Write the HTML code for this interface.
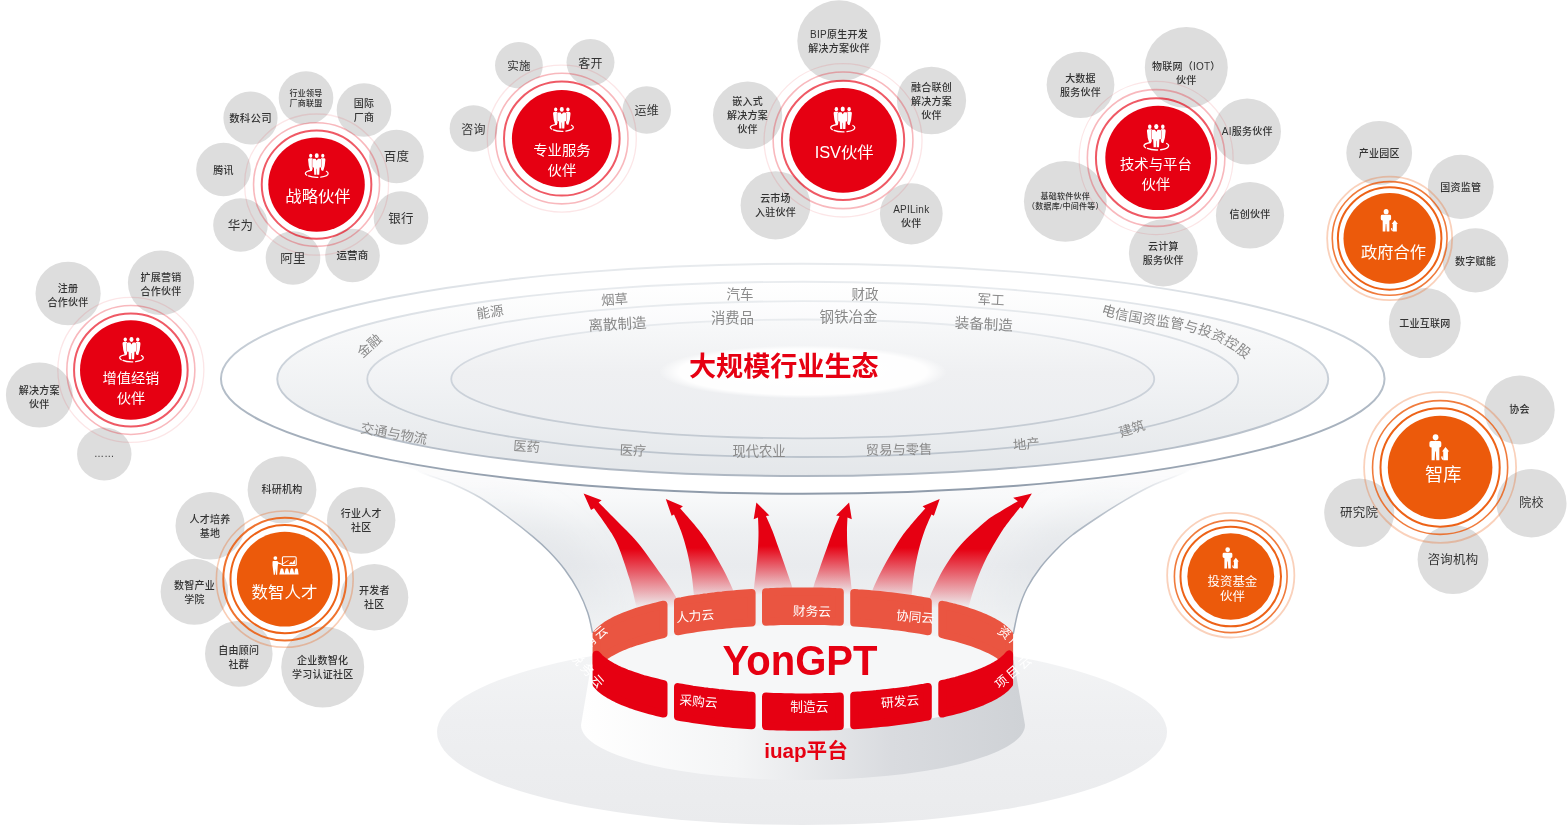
<!DOCTYPE html>
<html lang="zh-CN"><head><meta charset="utf-8"><title>YonGPT 生态</title>
<style>
html,body{margin:0;padding:0;background:#fff;}
body{width:1567px;height:826px;overflow:hidden;font-family:"Liberation Sans","Noto Sans CJK SC",sans-serif;}
svg{display:block;will-change:transform;}
text{font-family:"Liberation Sans","Noto Sans CJK SC",sans-serif;}
.st{fill:#333333;text-anchor:middle;letter-spacing:0.25px;}
.sm{font-weight:500;}
.lb{fill:#fff;text-anchor:middle;}
.ind{fill:#8a8a8a;text-anchor:middle;}
.cl{fill:#fff;text-anchor:middle;font-size:12.7px;}
</style></head><body>
<svg width="1567" height="826" viewBox="0 0 1567 826">
<defs>
<linearGradient id="gS1" x1="0" y1="0" x2="0" y2="1"><stop offset="0" stop-color="#e8ebee"/><stop offset="0.45" stop-color="#bcc5cf"/><stop offset="1" stop-color="#8f9baa"/></linearGradient>
<linearGradient id="gS2" x1="0" y1="0" x2="0" y2="1"><stop offset="0" stop-color="#e9ecef"/><stop offset="0.45" stop-color="#cad1d9"/><stop offset="1" stop-color="#aeb7c2"/></linearGradient>
<linearGradient id="gS3" x1="0" y1="0" x2="0" y2="1"><stop offset="0" stop-color="#e9ecef"/><stop offset="0.45" stop-color="#cfd5dc"/><stop offset="1" stop-color="#bcc4cd"/></linearGradient>
<linearGradient id="gS4" x1="0" y1="0" x2="0" y2="1"><stop offset="0" stop-color="#e9ecef"/><stop offset="0.45" stop-color="#ced4dc"/><stop offset="1" stop-color="#c3cad2"/></linearGradient>
<linearGradient id="gE2" x1="0" y1="0" x2="0" y2="1"><stop offset="0" stop-color="#ffffff"/><stop offset="1" stop-color="#e4e7ea"/></linearGradient>
<linearGradient id="gE3" x1="0" y1="0" x2="0" y2="1"><stop offset="0" stop-color="#fdfdfe"/><stop offset="1" stop-color="#e6e9ec"/></linearGradient>
<linearGradient id="gE4" x1="0" y1="0" x2="0" y2="1"><stop offset="0" stop-color="#f8f9fa"/><stop offset="0.45" stop-color="#eff0f2"/><stop offset="1" stop-color="#ebedf0"/></linearGradient>
<linearGradient id="gFun" x1="0" y1="0" x2="1" y2="0"><stop offset="0" stop-color="#dfe2e6"/><stop offset="0.25" stop-color="#f1f2f4"/><stop offset="0.5" stop-color="#f6f7f8"/><stop offset="0.75" stop-color="#f1f2f4"/><stop offset="1" stop-color="#dfe2e6"/></linearGradient>
<linearGradient id="gFunV" x1="0" y1="480" x2="0" y2="650" gradientUnits="userSpaceOnUse"><stop offset="0" stop-color="#fbfbfc"/><stop offset="0.1" stop-color="#f8f9fa"/><stop offset="0.3" stop-color="#eef0f2"/><stop offset="0.5" stop-color="#e9ebee"/><stop offset="0.75" stop-color="#eef0f2"/><stop offset="1" stop-color="#f4f5f6"/></linearGradient>
<linearGradient id="gEdge" x1="0" y1="470" x2="0" y2="545" gradientUnits="userSpaceOnUse"><stop offset="0" stop-color="#a3aebb" stop-opacity="0"/><stop offset="0.5" stop-color="#a3aebb" stop-opacity="0.7"/><stop offset="1" stop-color="#a3aebb" stop-opacity="1"/></linearGradient>
<linearGradient id="gEdgeSh" x1="0" y1="480" x2="0" y2="640" gradientUnits="userSpaceOnUse"><stop offset="0" stop-color="#d5d9de" stop-opacity="0"/><stop offset="0.42" stop-color="#d5d9de" stop-opacity="0.27"/><stop offset="0.7" stop-color="#d5d9de" stop-opacity="0.18"/><stop offset="1" stop-color="#d5d9de" stop-opacity="0.04"/></linearGradient>
<linearGradient id="gShadow" x1="0" y1="0" x2="0" y2="1"><stop offset="0" stop-color="#f4f5f6"/><stop offset="0.45" stop-color="#eeeff1"/><stop offset="1" stop-color="#eaebed"/></linearGradient>
<filter id="blur18" x="-50%" y="-50%" width="200%" height="200%"><feGaussianBlur stdDeviation="14"/></filter>
<linearGradient id="gArr0" x1="0" y1="549" x2="0" y2="608" gradientUnits="userSpaceOnUse"><stop offset="0" stop-color="#e60012" stop-opacity="1"/><stop offset="1" stop-color="#e60012" stop-opacity="0"/></linearGradient>
<linearGradient id="gArr1" x1="0" y1="548" x2="0" y2="601" gradientUnits="userSpaceOnUse"><stop offset="0" stop-color="#e60012" stop-opacity="1"/><stop offset="1" stop-color="#e60012" stop-opacity="0"/></linearGradient>
<linearGradient id="gArr2" x1="0" y1="546" x2="0" y2="595" gradientUnits="userSpaceOnUse"><stop offset="0" stop-color="#e60012" stop-opacity="1"/><stop offset="1" stop-color="#e60012" stop-opacity="0"/></linearGradient>
<linearGradient id="gPed" x1="0" y1="0" x2="1" y2="0"><stop offset="0" stop-color="#ffffff"/><stop offset="0.35" stop-color="#f4f5f6"/><stop offset="0.7" stop-color="#d9dbdf"/><stop offset="1" stop-color="#cfd2d6"/></linearGradient>
<radialGradient id="gGlow" cx="0.5" cy="0.5" r="0.5"><stop offset="0" stop-color="#fff" stop-opacity="1"/><stop offset="0.86" stop-color="#fff" stop-opacity="0.95"/><stop offset="1" stop-color="#fff" stop-opacity="0"/></radialGradient>
<clipPath id="clipBack"><path d="M580 560H1030V640.5H1014A211 52.5 0 0 0 592 640.5H580Z M592 640.5 A211 52.5 0 0 1 1014 640.5 V700 H592Z"/></clipPath>
</defs>
<rect width="1567" height="826" fill="#fff"/>

<ellipse cx="802" cy="732" rx="365" ry="93" fill="url(#gShadow)"/>
<clipPath id="clipFun"><path d="M300.0 430.0 C318.8 436.5 391.0 461.2 413.0 469.0 C435.0 476.8 425.3 474.0 432.0 476.5 C438.7 479.0 445.3 480.7 453.3 484.2 C461.3 487.7 471.0 492.2 479.9 497.5 C488.8 502.8 497.6 509.4 506.5 516.0 C515.4 522.5 526.1 530.9 533.2 536.8 C540.3 542.7 543.8 546.0 549.1 551.5 C554.4 557.0 560.2 563.4 565.1 570.0 C570.0 576.6 574.6 583.9 578.4 591.0 C582.2 598.1 585.3 605.5 587.7 612.5 C590.1 619.5 591.8 629.6 592.6 633.0 L592 677 A211 52.5 0 0 0 1013.5 677 L1013.2 634.0 C1014.1 630.0 1016.2 617.7 1018.5 610.0 C1020.8 602.3 1023.4 595.1 1027.1 588.0 C1030.8 580.9 1035.5 573.9 1040.4 567.5 C1045.3 561.1 1051.1 554.9 1056.4 549.5 C1061.7 544.1 1065.2 540.5 1072.3 535.0 C1079.4 529.5 1090.1 522.4 1099.0 516.5 C1107.9 510.6 1116.7 505.0 1125.6 499.8 C1134.5 494.6 1144.2 489.3 1152.2 485.5 C1160.2 481.7 1166.8 479.8 1173.5 477.0 C1180.2 474.2 1170.6 476.8 1192.5 469.0 C1214.4 461.2 1286.2 436.5 1305.0 430.0 Z"/></clipPath>
<path d="M300.0 430.0 C318.8 436.5 391.0 461.2 413.0 469.0 C435.0 476.8 425.3 474.0 432.0 476.5 C438.7 479.0 445.3 480.7 453.3 484.2 C461.3 487.7 471.0 492.2 479.9 497.5 C488.8 502.8 497.6 509.4 506.5 516.0 C515.4 522.5 526.1 530.9 533.2 536.8 C540.3 542.7 543.8 546.0 549.1 551.5 C554.4 557.0 560.2 563.4 565.1 570.0 C570.0 576.6 574.6 583.9 578.4 591.0 C582.2 598.1 585.3 605.5 587.7 612.5 C590.1 619.5 591.8 629.6 592.6 633.0 L592 677 A211 52.5 0 0 0 1013.5 677 L1013.2 634.0 C1014.1 630.0 1016.2 617.7 1018.5 610.0 C1020.8 602.3 1023.4 595.1 1027.1 588.0 C1030.8 580.9 1035.5 573.9 1040.4 567.5 C1045.3 561.1 1051.1 554.9 1056.4 549.5 C1061.7 544.1 1065.2 540.5 1072.3 535.0 C1079.4 529.5 1090.1 522.4 1099.0 516.5 C1107.9 510.6 1116.7 505.0 1125.6 499.8 C1134.5 494.6 1144.2 489.3 1152.2 485.5 C1160.2 481.7 1166.8 479.8 1173.5 477.0 C1180.2 474.2 1170.6 476.8 1192.5 469.0 C1214.4 461.2 1286.2 436.5 1305.0 430.0 Z" fill="url(#gFunV)"/>
<g clip-path="url(#clipFun)"><path d="M413.0 469.0 C416.2 470.2 425.3 474.0 432.0 476.5 C438.7 479.0 445.3 480.7 453.3 484.2 C461.3 487.7 471.0 492.2 479.9 497.5 C488.8 502.8 497.6 509.4 506.5 516.0 C515.4 522.5 526.1 530.9 533.2 536.8 C540.3 542.7 543.8 546.0 549.1 551.5 C554.4 557.0 560.2 563.4 565.1 570.0 C570.0 576.6 574.6 583.9 578.4 591.0 C582.2 598.1 585.3 605.5 587.7 612.5 C590.1 619.5 591.8 629.6 592.6 633.0" fill="none" stroke="url(#gEdgeSh)" stroke-width="50" filter="url(#blur18)"/><path d="M1192.5 469.0 C1189.3 470.3 1180.2 474.2 1173.5 477.0 C1166.8 479.8 1160.2 481.7 1152.2 485.5 C1144.2 489.3 1134.5 494.6 1125.6 499.8 C1116.7 505.0 1107.9 510.6 1099.0 516.5 C1090.1 522.4 1079.4 529.5 1072.3 535.0 C1065.2 540.5 1061.7 544.1 1056.4 549.5 C1051.1 554.9 1045.3 561.1 1040.4 567.5 C1035.5 573.9 1030.8 580.9 1027.1 588.0 C1023.4 595.1 1020.8 602.3 1018.5 610.0 C1016.2 617.7 1014.1 630.0 1013.2 634.0" fill="none" stroke="url(#gEdgeSh)" stroke-width="50" filter="url(#blur18)"/></g>
<path d="M413.0 469.0 C416.2 470.2 425.3 474.0 432.0 476.5 C438.7 479.0 445.3 480.7 453.3 484.2 C461.3 487.7 471.0 492.2 479.9 497.5 C488.8 502.8 497.6 509.4 506.5 516.0 C515.4 522.5 526.1 530.9 533.2 536.8 C540.3 542.7 543.8 546.0 549.1 551.5 C554.4 557.0 560.2 563.4 565.1 570.0 C570.0 576.6 574.6 583.9 578.4 591.0 C582.2 598.1 585.3 605.5 587.7 612.5 C590.1 619.5 591.8 629.6 592.6 633.0" fill="none" stroke="url(#gEdge)" stroke-width="1.5"/>
<path d="M1192.5 469.0 C1189.3 470.3 1180.2 474.2 1173.5 477.0 C1166.8 479.8 1160.2 481.7 1152.2 485.5 C1144.2 489.3 1134.5 494.6 1125.6 499.8 C1116.7 505.0 1107.9 510.6 1099.0 516.5 C1090.1 522.4 1079.4 529.5 1072.3 535.0 C1065.2 540.5 1061.7 544.1 1056.4 549.5 C1051.1 554.9 1045.3 561.1 1040.4 567.5 C1035.5 573.9 1030.8 580.9 1027.1 588.0 C1023.4 595.1 1020.8 602.3 1018.5 610.0 C1016.2 617.7 1014.1 630.0 1013.2 634.0" fill="none" stroke="url(#gEdge)" stroke-width="1.5"/>
<ellipse cx="802.75" cy="378.8" rx="581.8" ry="115" fill="#ffffff" stroke="url(#gS1)" stroke-width="2"/>
<ellipse cx="802.75" cy="378.9" rx="525.5" ry="97.1" fill="url(#gE2)" stroke="url(#gS2)" stroke-width="1.9"/>
<ellipse cx="802.75" cy="379.1" rx="435.5" ry="77.9" fill="url(#gE3)" stroke="url(#gS3)" stroke-width="1.8"/>
<ellipse cx="802.75" cy="378.9" rx="351.5" ry="59.4" fill="url(#gE4)" stroke="url(#gS4)" stroke-width="1.8"/>
<ellipse cx="802.9" cy="371.9" rx="144" ry="26.5" fill="url(#gGlow)"/>
<text x="783.8" y="375.5" text-anchor="middle" font-size="27.1" font-weight="bold" fill="#e60012">大规模行业生态</text>
<text class="ind" font-size="13.5" transform="translate(369.2 345.6) rotate(-42)" y="4.9">金融</text>
<text class="ind" font-size="13.5" transform="translate(490 312) rotate(-8)" y="4.9">能源</text>
<text class="ind" font-size="13.5" transform="translate(614.5 299.5) rotate(-4)" y="4.9">烟草</text>
<text class="ind" font-size="14.5" transform="translate(617.5 324) rotate(-3)" y="5.2">离散制造</text>
<text class="ind" font-size="13.5" transform="translate(740 294.5) rotate(0)" y="4.9">汽车</text>
<text class="ind" font-size="14.3" transform="translate(732.5 317.5) rotate(0)" y="5.1">消费品</text>
<text class="ind" font-size="13.5" transform="translate(865 294.5) rotate(0)" y="4.9">财政</text>
<text class="ind" font-size="14.5" transform="translate(848.5 316.5) rotate(0)" y="5.2">钢铁冶金</text>
<text class="ind" font-size="13.5" transform="translate(991 299.5) rotate(3)" y="4.9">军工</text>
<text class="ind" font-size="14.5" transform="translate(983.7 324) rotate(3)" y="5.2">装备制造</text>
<text class="ind" font-size="13.5" transform="translate(394 433.5) rotate(10)" y="4.9">交通与物流</text>
<text class="ind" font-size="13.3" transform="translate(526.5 446.5) rotate(4)" y="4.8">医药</text>
<text class="ind" font-size="13.3" transform="translate(633 450.5) rotate(2)" y="4.8">医疗</text>
<text class="ind" font-size="13.3" transform="translate(759 451.5) rotate(0)" y="4.8">现代农业</text>
<text class="ind" font-size="13.3" transform="translate(899 449.5) rotate(-1)" y="4.8">贸易与零售</text>
<text class="ind" font-size="13.3" transform="translate(1026.3 444) rotate(-5)" y="4.8">地产</text>
<text class="ind" font-size="13.3" transform="translate(1131.8 428.6) rotate(-18)" y="4.8">建筑</text>
<path id="pTel" d="M1100.7 313.6 C1102.2 314.1 1106.9 315.6 1109.9 316.5 C1113.0 317.4 1116.1 318.2 1119.2 319.0 C1122.2 319.7 1125.3 320.3 1128.4 320.9 C1131.4 321.5 1134.5 322.0 1137.5 322.6 C1140.5 323.1 1143.6 323.5 1146.6 324.0 C1149.6 324.4 1152.6 324.8 1155.6 325.3 C1158.6 325.7 1161.6 326.1 1164.6 326.6 C1167.5 327.1 1170.5 327.5 1173.5 328.0 C1176.4 328.6 1179.4 329.1 1182.3 329.7 C1185.2 330.3 1188.2 331.0 1191.1 331.8 C1194.0 332.5 1196.9 333.3 1199.8 334.2 C1202.7 335.1 1205.6 336.1 1208.5 337.3 C1211.4 338.4 1214.3 339.6 1217.2 341.0 C1220.1 342.3 1223.0 343.8 1225.9 345.4 C1228.8 347.1 1231.7 348.8 1234.6 350.8 C1237.5 352.8 1240.3 354.9 1243.2 357.2 C1246.1 359.5 1250.5 363.4 1252.0 364.7" fill="none"/>
<text class="ind" font-size="13.8" letter-spacing="0.25" style="text-anchor:start"><textPath href="#pTel" startOffset="0">电信国资监管与投资控股</textPath></text>
<path d="M583.6 493.6 L601.6 500.2 L598.6 502.6 C601.7 505.7 610.5 514.3 617.0 521.0 C623.5 527.7 630.4 533.7 637.8 542.7 C645.2 551.7 655.1 566.0 661.5 575.0 C667.9 584.0 672.4 590.8 676.0 597.0 C679.6 603.2 681.8 609.5 683.0 612.0 L637 612 C636.8 610.9 637.3 611.0 636.0 605.4 C634.7 599.8 632.4 588.5 629.3 578.3 C626.2 568.1 621.4 553.3 617.5 544.4 C613.6 535.5 609.9 531.0 606.0 525.0 C602.1 519.0 596.0 511.0 594.0 508.2 L591.0 510.0 Z" fill="url(#gArr0)"/>
<g id="arrL">
<path d="M665.8 499 L682.9 506.2 L680.2 508.4 C682.3 510.8 688.8 517.9 693.0 523.0 C697.2 528.1 700.7 531.8 705.6 539.3 C710.5 546.8 718.0 559.7 722.5 568.0 C727.0 576.3 730.1 583.0 732.7 589.3 C735.3 595.6 737.1 603.2 738.0 606.0 L694.5 606 C694.4 603.9 694.2 598.9 693.7 593.6 C693.2 588.3 692.6 581.1 691.5 574.0 C690.4 566.9 688.8 558.2 687.0 551.0 C685.2 543.8 683.2 537.1 681.0 531.0 C678.8 524.9 675.2 517.2 674.0 514.4 L671.6 515.8 Z" fill="url(#gArr1)"/>
<path d="M756.4 502.4 L769.4 515.6 L766.0 516.0 C767.1 518.5 770.4 525.7 772.5 531.0 C774.6 536.3 776.2 541.5 778.5 547.8 C780.8 554.1 783.8 562.5 786.0 569.0 C788.2 575.5 790.5 581.0 792.0 586.8 C793.5 592.6 794.5 601.1 795.0 604.0 L752.5 604 C752.7 601.4 753.3 594.2 753.9 588.5 C754.5 582.8 755.3 576.8 756.0 570.0 C756.7 563.2 757.6 554.1 758.0 547.8 C758.4 541.5 758.5 537.0 758.5 532.0 C758.5 527.0 758.1 520.0 758.0 517.6 L753.7 519.2 Z" fill="url(#gArr2)"/>
</g>
<use href="#arrL" transform="translate(1605.5 0) scale(-1 1)"/>
<path d="M1031.9 493.6 L1022.4 508.8 L1020.3 507.1 C1018.6 509.2 1013.4 515.5 1010.0 520.0 C1006.6 524.5 1003.9 527.9 1000.0 534.2 C996.1 540.5 990.4 550.1 986.4 558.0 C982.4 565.9 979.1 574.1 976.3 581.7 C973.5 589.3 970.9 598.7 969.5 603.7 C968.1 608.8 968.2 610.6 968.0 612.0 L925 612 C925.9 609.2 927.3 602.6 930.5 595.3 C933.7 588.0 939.0 576.6 944.1 568.1 C949.2 559.6 954.0 552.3 961.0 544.4 C968.0 536.5 979.6 526.4 986.4 520.7 C993.2 515.1 996.8 513.8 1002.0 510.5 C1007.2 507.2 1015.2 502.8 1017.8 501.2 L1013.2 497.8 Z" fill="url(#gArr0)"/>
<path d="M592 660 L581 725 A222 55 0 0 0 1025 725 L1013.5 660 Z" fill="url(#gPed)"/>
<ellipse cx="802.75" cy="677" rx="211" ry="52.5" fill="#f6f7f8"/>
<g stroke-linejoin="round" stroke-width="8.0">
<path d="M596.6 634.0 L599.9 630.5 L603.3 627.7 L606.6 625.3 L610.0 623.3 L613.3 621.4 L616.7 619.7 L620.0 618.2 L623.4 616.8 L626.7 615.4 L630.0 614.2 L633.4 613.0 L636.7 611.9 L640.1 610.8 L643.4 609.8 L646.8 608.9 L650.1 608.0 L653.5 607.1 L656.8 606.3 L660.2 605.5 L663.5 604.7 L663.5 634.1 L660.2 634.9 L656.8 635.7 L653.5 636.5 L650.1 637.4 L646.8 638.3 L643.4 639.3 L640.1 640.3 L636.7 641.3 L633.4 642.5 L630.0 643.6 L626.7 644.9 L623.4 646.2 L620.0 647.7 L616.7 649.2 L613.3 650.9 L610.0 652.7 L606.6 654.8 L603.3 657.1 L599.9 659.9 L596.6 663.5Z" fill="#ea5541" stroke="#ea5541"/>
<path d="M678.0 601.7 L681.7 601.1 L685.4 600.4 L689.0 599.8 L692.7 599.2 L696.4 598.7 L700.1 598.2 L703.8 597.6 L707.4 597.2 L711.1 596.7 L714.8 596.3 L718.5 595.8 L722.2 595.5 L725.8 595.1 L729.5 594.7 L733.2 594.4 L736.9 594.1 L740.6 593.8 L744.2 593.5 L747.9 593.2 L751.6 593.0 L751.6 622.4 L747.9 622.7 L744.2 622.9 L740.6 623.2 L736.9 623.5 L733.2 623.8 L729.5 624.2 L725.8 624.5 L722.2 624.9 L718.5 625.3 L714.8 625.7 L711.1 626.2 L707.4 626.6 L703.8 627.1 L700.1 627.6 L696.4 628.1 L692.7 628.7 L689.0 629.3 L685.4 629.9 L681.7 630.5 L678.0 631.2Z" fill="#ea5541" stroke="#ea5541"/>
<path d="M766.0 592.2 L769.7 592.1 L773.4 591.9 L777.1 591.8 L780.8 591.7 L784.5 591.6 L788.1 591.5 L791.8 591.5 L795.5 591.4 L799.2 591.4 L802.9 591.4 L806.6 591.4 L810.3 591.4 L814.0 591.5 L817.7 591.5 L821.3 591.6 L825.0 591.7 L828.7 591.8 L832.4 591.9 L836.1 592.1 L839.8 592.2 L839.8 621.7 L836.1 621.5 L832.4 621.4 L828.7 621.3 L825.0 621.1 L821.3 621.1 L817.7 621.0 L814.0 620.9 L810.3 620.9 L806.6 620.9 L802.9 620.9 L799.2 620.9 L795.5 620.9 L791.8 620.9 L788.1 621.0 L784.5 621.1 L780.8 621.1 L777.1 621.2 L773.4 621.4 L769.7 621.5 L766.0 621.7Z" fill="#ea5541" stroke="#ea5541"/>
<path d="M854.2 593.0 L857.9 593.3 L861.6 593.5 L865.2 593.8 L868.9 594.1 L872.6 594.4 L876.3 594.7 L880.0 595.1 L883.6 595.5 L887.3 595.9 L891.0 596.3 L894.7 596.7 L898.4 597.2 L902.0 597.7 L905.7 598.2 L909.4 598.7 L913.1 599.3 L916.8 599.9 L920.4 600.5 L924.1 601.1 L927.8 601.8 L927.8 631.2 L924.1 630.6 L920.4 629.9 L916.8 629.3 L913.1 628.7 L909.4 628.2 L905.7 627.6 L902.0 627.1 L898.4 626.6 L894.7 626.2 L891.0 625.7 L887.3 625.3 L883.6 624.9 L880.0 624.6 L876.3 624.2 L872.6 623.9 L868.9 623.5 L865.2 623.2 L861.6 623.0 L857.9 622.7 L854.2 622.5Z" fill="#ea5541" stroke="#ea5541"/>
<path d="M942.3 604.8 L945.6 605.5 L949.0 606.3 L952.3 607.2 L955.7 608.0 L959.0 608.9 L962.3 609.9 L965.7 610.9 L969.0 612.0 L972.4 613.1 L975.7 614.3 L979.0 615.5 L982.4 616.9 L985.7 618.3 L989.1 619.9 L992.4 621.5 L995.7 623.4 L999.1 625.5 L1002.4 627.8 L1005.8 630.7 L1009.1 634.3 L1009.1 663.8 L1005.8 660.1 L1002.4 657.3 L999.1 654.9 L995.7 652.8 L992.4 651.0 L989.1 649.3 L985.7 647.8 L982.4 646.3 L979.0 645.0 L975.7 643.7 L972.4 642.5 L969.0 641.4 L965.7 640.4 L962.3 639.4 L959.0 638.4 L955.7 637.5 L952.3 636.6 L949.0 635.8 L945.6 635.0 L942.3 634.2Z" fill="#ea5541" stroke="#ea5541"/>
<path d="M596.6 654.8 L599.9 658.3 L603.3 661.1 L606.6 663.5 L610.0 665.5 L613.3 667.4 L616.7 669.1 L620.0 670.6 L623.4 672.0 L626.7 673.4 L630.0 674.6 L633.4 675.8 L636.7 676.9 L640.1 678.0 L643.4 679.0 L646.8 679.9 L650.1 680.8 L653.5 681.7 L656.8 682.5 L660.2 683.3 L663.5 684.1 L663.5 713.6 L660.2 712.8 L656.8 712.0 L653.5 711.2 L650.1 710.3 L646.8 709.4 L643.4 708.4 L640.1 707.4 L636.7 706.4 L633.4 705.2 L630.0 704.1 L626.7 702.8 L623.4 701.5 L620.0 700.0 L616.7 698.5 L613.3 696.8 L610.0 695.0 L606.6 692.9 L603.3 690.6 L599.9 687.8 L596.6 684.2Z" fill="#e60012" stroke="#e60012"/>
<path d="M678.0 687.1 L681.7 687.7 L685.4 688.4 L689.0 689.0 L692.7 689.6 L696.4 690.1 L700.1 690.6 L703.8 691.2 L707.4 691.6 L711.1 692.1 L714.8 692.5 L718.5 693.0 L722.2 693.3 L725.8 693.7 L729.5 694.1 L733.2 694.4 L736.9 694.7 L740.6 695.0 L744.2 695.3 L747.9 695.6 L751.6 695.8 L751.6 725.3 L747.9 725.0 L744.2 724.8 L740.6 724.5 L736.9 724.2 L733.2 723.9 L729.5 723.5 L725.8 723.2 L722.2 722.8 L718.5 722.4 L714.8 722.0 L711.1 721.5 L707.4 721.1 L703.8 720.6 L700.1 720.1 L696.4 719.6 L692.7 719.0 L689.0 718.4 L685.4 717.8 L681.7 717.2 L678.0 716.5Z" fill="#e60012" stroke="#e60012"/>
<path d="M766.0 696.6 L769.7 696.7 L773.4 696.9 L777.1 697.0 L780.8 697.1 L784.5 697.2 L788.1 697.3 L791.8 697.3 L795.5 697.4 L799.2 697.4 L802.9 697.4 L806.6 697.4 L810.3 697.4 L814.0 697.3 L817.7 697.3 L821.3 697.2 L825.0 697.1 L828.7 697.0 L832.4 696.9 L836.1 696.7 L839.8 696.6 L839.8 726.0 L836.1 726.2 L832.4 726.3 L828.7 726.4 L825.0 726.6 L821.3 726.6 L817.7 726.7 L814.0 726.8 L810.3 726.8 L806.6 726.8 L802.9 726.8 L799.2 726.8 L795.5 726.8 L791.8 726.8 L788.1 726.7 L784.5 726.6 L780.8 726.6 L777.1 726.5 L773.4 726.3 L769.7 726.2 L766.0 726.0Z" fill="#e60012" stroke="#e60012"/>
<path d="M854.2 695.8 L857.9 695.5 L861.6 695.3 L865.2 695.0 L868.9 694.7 L872.6 694.4 L876.3 694.1 L880.0 693.7 L883.6 693.3 L887.3 692.9 L891.0 692.5 L894.7 692.1 L898.4 691.6 L902.0 691.1 L905.7 690.6 L909.4 690.1 L913.1 689.5 L916.8 688.9 L920.4 688.3 L924.1 687.7 L927.8 687.0 L927.8 716.5 L924.1 717.1 L920.4 717.8 L916.8 718.4 L913.1 719.0 L909.4 719.5 L905.7 720.1 L902.0 720.6 L898.4 721.1 L894.7 721.5 L891.0 722.0 L887.3 722.4 L883.6 722.8 L880.0 723.1 L876.3 723.5 L872.6 723.8 L868.9 724.2 L865.2 724.5 L861.6 724.7 L857.9 725.0 L854.2 725.2Z" fill="#e60012" stroke="#e60012"/>
<path d="M942.3 684.0 L945.6 683.3 L949.0 682.5 L952.3 681.6 L955.7 680.8 L959.0 679.9 L962.3 678.9 L965.7 677.9 L969.0 676.8 L972.4 675.7 L975.7 674.5 L979.0 673.3 L982.4 671.9 L985.7 670.5 L989.1 668.9 L992.4 667.3 L995.7 665.4 L999.1 663.3 L1002.4 661.0 L1005.8 658.1 L1009.1 654.5 L1009.1 683.9 L1005.8 687.6 L1002.4 690.4 L999.1 692.8 L995.7 694.9 L992.4 696.7 L989.1 698.4 L985.7 699.9 L982.4 701.4 L979.0 702.7 L975.7 704.0 L972.4 705.2 L969.0 706.3 L965.7 707.3 L962.3 708.3 L959.0 709.3 L955.7 710.2 L952.3 711.1 L949.0 711.9 L945.6 712.7 L942.3 713.5Z" fill="#e60012" stroke="#e60012"/>
</g>
<text class="cl" transform="translate(695 616) rotate(-5)" y="4.5">人力云</text>
<text class="cl" transform="translate(811.9 611.3) rotate(1)" y="4.5">财务云</text>
<text class="cl" transform="translate(915 617) rotate(5)" y="4.5">协同云</text>
<text class="cl" transform="translate(698.5 701.5) rotate(5)" y="4.5">采购云</text>
<text class="cl" transform="translate(809.4 706.3) rotate(0)" y="4.5">制造云</text>
<text class="cl" transform="translate(900 701.5) rotate(-5)" y="4.5">研发云</text>
<text class="cl" transform="translate(1016.6 641.9) rotate(38)" y="4.5" letter-spacing="2.5" dx="1.25">资产云</text>
<text class="cl" transform="translate(1013 672.3) rotate(-40)" y="4.5" letter-spacing="2.5" dx="1.25">项目云</text>
<text class="cl" transform="translate(589 642.3) rotate(-40)" y="4.5" letter-spacing="2.5" dx="1.25">营销云</text>
<text class="cl" transform="translate(587.3 670) rotate(48)" y="4.5" letter-spacing="2.5" dx="1.25">税务云</text>
<text x="800" y="675" text-anchor="middle" font-size="43" font-weight="bold" fill="#e60012" textLength="155" lengthAdjust="spacingAndGlyphs">YonGPT</text>
<text x="806" y="758" text-anchor="middle" font-size="20.6" font-weight="bold" fill="#e60012">iuap平台</text>
<symbol id="grp" viewBox="-13 0 26 27" overflow="visible">
<g fill="#fff">
<ellipse cx="-6.3" cy="3" rx="1.700" ry="2.100"/><ellipse cx="6.3" cy="3" rx="1.700" ry="2.100"/>
<path d="M-8 5.500h3.600v11.500l-.9 1.600h-1.500l-1.500-5-.7-6.200c-.1-1 .3-1.900 1-1.900z"/>
<path d="M8 5.500h-3.600v11.500l.9 1.600h1.500l1.500-5 .7-6.200c.1-1-.3-1.900-1-1.900z"/>
<g stroke="currentColor" stroke-width=".7" paint-order="stroke"><ellipse cx="0" cy="2.900" rx="2.050" ry="2.500"/>
<path d="M-4.600 7.200q0-1.200 1.200-1.200h2.200l1.200 2 1.200-2h2.200q1.200 0 1.200 1.200v7.400q0 .6-.6.600h-1l-.4 7.500h-2.250l-.15-6.200h-.4l-.15 6.200h-2.250l-.4-7.500h-1q-.6 0-.6-.6z"/></g>
</g>
<path d="M-5.600 18.200c-3.800.6-6.300 1.800-6.300 3.200 0 .7.600 1.300 1.600 1.900M-8.600 24c2 .9 5.200 1.500 8.600 1.500h1.200M4.200 25.200c4.500-.6 7.700-2 7.700-3.800 0-.9-.7-1.600-1.900-2.200" fill="none" stroke="#fff" stroke-width="1.300" stroke-linecap="round"/>
</symbol>
<symbol id="per" viewBox="0 0 18 23" overflow="visible">
<g fill="#fff">
<ellipse cx="5.4" cy="2.600" rx="2.500" ry="2.650"/>
<path d="M1.500 5.800H8.900A1.500 1.500 0 0 1 10.400 7.300V9.900A1.500 1.500 0 0 1 8.900 11.400H8.700V22.700H6L5.600 15H5L4.600 22.700H1.900V11.400H1.500A1.500 1.500 0 0 1 0 9.900V7.300A1.500 1.500 0 0 1 1.500 5.800Z"/>
<path d="M14.100 11L17.300 15H16.200V22.700H12.100V15H11Z"/>
<path d="M10.300 19.300l1.200-.3c0 1.200.3 1.800.8 2.200l-.5 1.200c-1-.6-1.500-1.700-1.500-3.100z"/>
</g></symbol>
<symbol id="tch" viewBox="0 0 26 19" overflow="visible">
<g fill="#fff">
<circle cx="3.200" cy="1.800" r="1.900"/>
<path d="M1 4.600h4.200l1.200 1.600 3.200 1-.2.800-3.500-.6-.4 3-.5 7.800H3.800l-.5-6-.5 6H1.600L.4 9.200V5.400c0-.5.300-.8.600-.8z"/>
<rect x="10.200" y=".5" width="13.600" height="8.600" rx="1" fill="none" stroke="#fff" stroke-width="1.100"/>
<path d="M9 8.200l7-4.600.4.600-7 4.600z"/>
<path d="M16.500 7.800l2.200-2.300 1.300 1.100 2.600-3.400v4.600z"/>
<path d="M8.200 13.600c0-1 .7-1.700 1.500-1.700s1.500.7 1.500 1.700l1.100 4.400H7.100zM13.100 13.600c0-1 .7-1.700 1.500-1.700s1.500.7 1.500 1.700l1.100 4.400h-5.200zM18 13.600c0-1 .7-1.700 1.500-1.700s1.500.7 1.500 1.700l1.100 4.400h-5.200zM22.600 13.600c0-1 .7-1.700 1.500-1.700s1.500.7 1.500 1.700l.6 4.400h-4.400z"/>
</g></symbol>
<ellipse cx="250.5" cy="118" rx="27.12" ry="26.48" fill="#dddddd"/>
<ellipse cx="306" cy="98" rx="27.32" ry="26.68" fill="#dddddd"/>
<ellipse cx="316.55" cy="184.6" rx="63" ry="61.8" fill="#fff"/>
<ellipse cx="364" cy="110" rx="27.32" ry="26.68" fill="#dddddd"/>
<ellipse cx="396.5" cy="156.5" rx="27.32" ry="26.68" fill="#dddddd"/>
<ellipse cx="401" cy="218" rx="27.32" ry="26.68" fill="#dddddd"/>
<ellipse cx="352.5" cy="255.5" rx="27.32" ry="26.68" fill="#dddddd"/>
<ellipse cx="293" cy="258" rx="27.32" ry="26.68" fill="#dddddd"/>
<ellipse cx="240.5" cy="225" rx="27.32" ry="26.68" fill="#dddddd"/>
<ellipse cx="223.5" cy="169.5" rx="27.32" ry="26.68" fill="#dddddd"/>
<ellipse cx="316.55" cy="184.6" rx="72" ry="70.6" fill="none" stroke="#e60012" stroke-opacity="0.1" stroke-width="1.3"/>
<ellipse cx="316.55" cy="184.6" rx="63" ry="61.8" fill="none" stroke="#e60012" stroke-opacity="0.28" stroke-width="1.6"/>
<ellipse cx="316.55" cy="184.6" rx="54.8" ry="54.1" fill="none" stroke="#e60012" stroke-opacity="0.65" stroke-width="2.0"/>
<ellipse cx="316.55" cy="184.6" rx="48.25" ry="47.2" fill="#e60012"/>
<text class="st sm" x="250.5" y="122.2" font-size="10.4">数科公司</text>
<text class="st sm" x="306" y="96.1" font-size="8">行业领导</text>
<text class="st sm" x="306" y="106.3" font-size="8">厂商联盟</text>
<text class="st sm" x="364" y="107.0" font-size="10">国际</text>
<text class="st sm" x="364" y="121.0" font-size="10">厂商</text>
<text class="st" x="396.5" y="161.3" font-size="12.5">百度</text>
<text class="st" x="401" y="223.0" font-size="12.5">银行</text>
<text class="st sm" x="352.5" y="259.3" font-size="10.5">运营商</text>
<text class="st" x="293" y="262.9" font-size="12.5">阿里</text>
<text class="st" x="240.5" y="229.9" font-size="12.5">华为</text>
<text class="st sm" x="223.5" y="173.6" font-size="10">腾讯</text>
<text class="lb" x="318.0" y="202.0" font-size="15.9" textLength="65.4" lengthAdjust="spacingAndGlyphs">战略伙伴</text>
<use href="#grp" x="304.3" y="152.9" width="24.9" height="25.9" style="color:#e60012"/>
<ellipse cx="518.9" cy="65.3" rx="23.88" ry="23.32" fill="#dddddd"/>
<ellipse cx="561.8" cy="138.55" rx="66.2" ry="65.3" fill="#fff"/>
<ellipse cx="590.5" cy="62.35" rx="23.98" ry="23.42" fill="#dddddd"/>
<ellipse cx="646.7" cy="110" rx="24.29" ry="23.72" fill="#dddddd"/>
<ellipse cx="473.5" cy="128.5" rx="23.88" ry="23.32" fill="#dddddd"/>
<ellipse cx="561.8" cy="138.55" rx="74.5" ry="73.5" fill="none" stroke="#e60012" stroke-opacity="0.1" stroke-width="1.3"/>
<ellipse cx="561.8" cy="138.55" rx="66.2" ry="65.3" fill="none" stroke="#e60012" stroke-opacity="0.28" stroke-width="1.6"/>
<ellipse cx="561.8" cy="138.55" rx="57.8" ry="57.0" fill="none" stroke="#e60012" stroke-opacity="0.65" stroke-width="2.0"/>
<ellipse cx="561.8" cy="138.55" rx="49.9" ry="48.65" fill="#e60012"/>
<text class="st" x="518.9" y="70.1" font-size="11.5">实施</text>
<text class="st" x="590.5" y="67.7" font-size="12">客开</text>
<text class="st" x="646.7" y="115.3" font-size="12">运维</text>
<text class="st" x="473.5" y="133.6" font-size="12">咨询</text>
<text class="lb" x="561.9" y="155.3" font-size="14.0" textLength="57.4" lengthAdjust="spacingAndGlyphs">专业服务</text>
<text class="lb" x="561.9" y="174.5" font-size="14.0" textLength="28.6" lengthAdjust="spacingAndGlyphs">伙伴</text>
<use href="#grp" x="549.2" y="106.6" width="25.2" height="26.2" style="color:#e60012"/>
<ellipse cx="839" cy="41" rx="41.69" ry="40.71" fill="#dddddd"/>
<ellipse cx="931.5" cy="100.5" rx="34.61" ry="33.79" fill="#dddddd"/>
<ellipse cx="911.3" cy="213.8" rx="31.37" ry="30.63" fill="#dddddd"/>
<ellipse cx="747.6" cy="115.3" rx="34.61" ry="33.79" fill="#dddddd"/>
<ellipse cx="775.5" cy="205.3" rx="34.91" ry="34.09" fill="#dddddd"/>
<ellipse cx="843.05" cy="140.35" rx="79" ry="76.65" fill="none" stroke="#e60012" stroke-opacity="0.1" stroke-width="1.3"/>
<ellipse cx="843.05" cy="140.35" rx="69.9" ry="68.3" fill="none" stroke="#e60012" stroke-opacity="0.28" stroke-width="1.6"/>
<ellipse cx="843.05" cy="140.35" rx="61.15" ry="59.55" fill="none" stroke="#e60012" stroke-opacity="0.65" stroke-width="2.0"/>
<ellipse cx="843.05" cy="140.35" rx="53.65" ry="52.3" fill="#e60012"/>
<text class="st sm" x="839" y="37.9" font-size="10">BIP原生开发</text>
<text class="st sm" x="839" y="51.9" font-size="10">解决方案伙伴</text>
<text class="st sm" x="931.5" y="90.6" font-size="10">融合联创</text>
<text class="st sm" x="931.5" y="104.6" font-size="10">解决方案</text>
<text class="st sm" x="931.5" y="118.6" font-size="10">伙伴</text>
<text class="st sm" x="911.3" y="212.6" font-size="10">APILink</text>
<text class="st sm" x="911.3" y="226.6" font-size="10">伙伴</text>
<text class="st sm" x="747.6" y="104.7" font-size="10">嵌入式</text>
<text class="st sm" x="747.6" y="118.7" font-size="10">解决方案</text>
<text class="st sm" x="747.6" y="132.7" font-size="10">伙伴</text>
<text class="st sm" x="775.5" y="201.6" font-size="10">云市场</text>
<text class="st sm" x="775.5" y="215.6" font-size="10">入驻伙伴</text>
<text class="lb" x="844.2" y="158.0" font-size="15.95" textLength="59.1" lengthAdjust="spacingAndGlyphs">ISV伙伴</text>
<use href="#grp" x="829.6" y="106.1" width="26.3" height="27.3" style="color:#e60012"/>
<ellipse cx="1080.5" cy="84.8" rx="33.90" ry="33.10" fill="#dddddd"/>
<ellipse cx="1186.3" cy="67.5" rx="41.49" ry="40.51" fill="#dddddd"/>
<ellipse cx="1247.2" cy="131.5" rx="33.80" ry="33.00" fill="#dddddd"/>
<ellipse cx="1250" cy="215.2" rx="34.10" ry="33.30" fill="#dddddd"/>
<ellipse cx="1163.3" cy="252.8" rx="34.41" ry="33.60" fill="#dddddd"/>
<ellipse cx="1065.3" cy="201.3" rx="41.39" ry="40.42" fill="#dddddd"/>
<ellipse cx="1156.1" cy="158.0" rx="77" ry="76.6" fill="none" stroke="#e60012" stroke-opacity="0.1" stroke-width="1.3"/>
<ellipse cx="1156.1" cy="158.0" rx="68.75" ry="68.4" fill="none" stroke="#e60012" stroke-opacity="0.28" stroke-width="1.6"/>
<ellipse cx="1156.1" cy="158.0" rx="60.15" ry="59.8" fill="none" stroke="#e60012" stroke-opacity="0.65" stroke-width="2.0"/>
<ellipse cx="1158.15" cy="157.9" rx="52.85" ry="52.2" fill="#e60012"/>
<text class="st sm" x="1080.5" y="82.1" font-size="10">大数据</text>
<text class="st sm" x="1080.5" y="96.1" font-size="10">服务伙伴</text>
<text class="st sm" x="1186.3" y="70.4" font-size="10">物联网（IOT）</text>
<text class="st sm" x="1186.3" y="84.4" font-size="10">伙伴</text>
<text class="st sm" x="1247.2" y="135.4" font-size="10">AI服务伙伴</text>
<text class="st sm" x="1250" y="218.1" font-size="10">信创伙伴</text>
<text class="st sm" x="1163.3" y="249.6" font-size="10">云计算</text>
<text class="st sm" x="1163.3" y="263.6" font-size="10">服务伙伴</text>
<text class="st sm" x="1065.3" y="198.7" font-size="8">基础软件伙伴</text>
<text class="st sm" x="1065.3" y="208.9" font-size="8">（数据库/中间件等）</text>
<text class="lb" x="1155.9" y="168.7" font-size="14.0" textLength="71.9" lengthAdjust="spacingAndGlyphs">技术与平台</text>
<text class="lb" x="1155.9" y="189.1" font-size="14.0" textLength="28.6" lengthAdjust="spacingAndGlyphs">伙伴</text>
<use href="#grp" x="1142.8" y="123.6" width="27.0" height="28.0" style="color:#e60012"/>
<ellipse cx="1379.2" cy="153" rx="32.89" ry="32.11" fill="#dddddd"/>
<ellipse cx="1460.8" cy="186.8" rx="32.89" ry="32.11" fill="#dddddd"/>
<ellipse cx="1475.5" cy="260.3" rx="32.89" ry="32.11" fill="#dddddd"/>
<ellipse cx="1424.8" cy="323" rx="35.93" ry="35.08" fill="#dddddd"/>
<ellipse cx="1389.65" cy="238.45" rx="62.5" ry="61.75" fill="none" stroke="#ec5a0b" stroke-opacity="0.28" stroke-width="1.8"/>
<ellipse cx="1389.65" cy="238.45" rx="57.4" ry="56.8" fill="none" stroke="#ec5a0b" stroke-opacity="0.8" stroke-width="1.6"/>
<ellipse cx="1389.65" cy="238.45" rx="51.8" ry="51.2" fill="none" stroke="#ec5a0b" stroke-opacity="0.95" stroke-width="2.0"/>
<ellipse cx="1389.65" cy="238.45" rx="46.15" ry="45.35" fill="#ec5a0b"/>
<text class="st sm" x="1379.2" y="156.6" font-size="10">产业园区</text>
<text class="st sm" x="1460.8" y="191.4" font-size="10">国资监管</text>
<text class="st sm" x="1475.5" y="264.7" font-size="10">数字赋能</text>
<text class="st sm" x="1424.8" y="327.0" font-size="10">工业互联网</text>
<text class="lb" x="1393.5" y="258.1" font-size="15.9" textLength="65.1" lengthAdjust="spacingAndGlyphs">政府合作</text>
<use href="#per" x="1380.8" y="209.1" width="17.8" height="22.8" style="color:#ec5a0b"/>
<ellipse cx="1519.5" cy="410" rx="35.22" ry="34.39" fill="#dddddd"/>
<ellipse cx="1531.5" cy="503.2" rx="35.02" ry="34.19" fill="#dddddd"/>
<ellipse cx="1453" cy="559.5" rx="35.42" ry="34.58" fill="#dddddd"/>
<ellipse cx="1359.2" cy="512.8" rx="35.02" ry="34.19" fill="#dddddd"/>
<ellipse cx="1440.1" cy="467.5" rx="76" ry="75.3" fill="none" stroke="#ec5a0b" stroke-opacity="0.28" stroke-width="1.8"/>
<ellipse cx="1440.1" cy="467.5" rx="67.55" ry="66.9" fill="none" stroke="#ec5a0b" stroke-opacity="0.8" stroke-width="1.6"/>
<ellipse cx="1440.1" cy="467.5" rx="59.6" ry="59.15" fill="none" stroke="#ec5a0b" stroke-opacity="0.95" stroke-width="2.0"/>
<ellipse cx="1440.1" cy="467.5" rx="52.3" ry="51.7" fill="#ec5a0b"/>
<text class="st sm" x="1519.5" y="413.0" font-size="10">协会</text>
<text class="st" x="1531.5" y="507.0" font-size="12">院校</text>
<text class="st" x="1453" y="564.0" font-size="12.4">咨询机构</text>
<text class="st" x="1359.2" y="516.9" font-size="12.5">研究院</text>
<text class="lb" x="1443.3" y="480.8" font-size="17.7" textLength="36.4" lengthAdjust="spacingAndGlyphs">智库</text>
<use href="#per" x="1429.4" y="434.4" width="20.6" height="26.3" style="color:#ec5a0b"/>
<ellipse cx="1230.75" cy="575.2" rx="63.6" ry="62.3" fill="none" stroke="#ec5a0b" stroke-opacity="0.28" stroke-width="1.8"/>
<ellipse cx="1230.75" cy="576.5" rx="56.35" ry="56.1" fill="none" stroke="#ec5a0b" stroke-opacity="0.8" stroke-width="1.6"/>
<ellipse cx="1230.75" cy="576.5" rx="50.25" ry="49.75" fill="none" stroke="#ec5a0b" stroke-opacity="0.95" stroke-width="2.0"/>
<ellipse cx="1230.75" cy="576.5" rx="43.45" ry="43.2" fill="#ec5a0b"/>
<text class="lb" x="1232.4" y="586.0" font-size="12.1" textLength="49.7" lengthAdjust="spacingAndGlyphs">投资基金</text>
<text class="lb" x="1232.4" y="601.2" font-size="12.1" textLength="24.9" lengthAdjust="spacingAndGlyphs">伙伴</text>
<use href="#per" x="1222.6" y="547.3" width="16.9" height="21.6" style="color:#ec5a0b"/>
<ellipse cx="282" cy="489.8" rx="34.41" ry="33.60" fill="#dddddd"/>
<ellipse cx="361.2" cy="520.3" rx="34.21" ry="33.40" fill="#dddddd"/>
<ellipse cx="374.3" cy="597.2" rx="34.00" ry="33.20" fill="#dddddd"/>
<ellipse cx="322.7" cy="667" rx="41.49" ry="40.51" fill="#dddddd"/>
<ellipse cx="238.8" cy="653.7" rx="33.80" ry="33.00" fill="#dddddd"/>
<ellipse cx="194.4" cy="591.7" rx="33.80" ry="33.00" fill="#dddddd"/>
<ellipse cx="210.1" cy="525.7" rx="34.61" ry="33.79" fill="#dddddd"/>
<ellipse cx="284.75" cy="579.15" rx="68.4" ry="68.15" fill="none" stroke="#ec5a0b" stroke-opacity="0.3" stroke-width="1.6"/>
<ellipse cx="284.75" cy="579.15" rx="61.45" ry="61.35" fill="none" stroke="#ec5a0b" stroke-opacity="0.85" stroke-width="2.0"/>
<ellipse cx="284.75" cy="579.15" rx="54.25" ry="54.1" fill="none" stroke="#ec5a0b" stroke-opacity="0.95" stroke-width="2.0"/>
<ellipse cx="284.75" cy="579.15" rx="47.85" ry="47.45" fill="#ec5a0b"/>
<text class="st sm" x="282" y="492.9" font-size="10">科研机构</text>
<text class="st sm" x="361.2" y="517.1" font-size="10">行业人才</text>
<text class="st sm" x="361.2" y="531.1" font-size="10">社区</text>
<text class="st sm" x="374.3" y="593.8" font-size="10">开发者</text>
<text class="st sm" x="374.3" y="607.8" font-size="10">社区</text>
<text class="st sm" x="322.7" y="664.1" font-size="10">企业数智化</text>
<text class="st sm" x="322.7" y="678.1" font-size="10">学习认证社区</text>
<text class="st sm" x="238.8" y="653.5" font-size="10">自由顾问</text>
<text class="st sm" x="238.8" y="667.5" font-size="10">社群</text>
<text class="st sm" x="194.4" y="588.7" font-size="10">数智产业</text>
<text class="st sm" x="194.4" y="602.7" font-size="10">学院</text>
<text class="st sm" x="210.1" y="523.3" font-size="10">人才培养</text>
<text class="st sm" x="210.1" y="537.3" font-size="10">基地</text>
<text class="lb" x="284.5" y="597.7" font-size="16.0" textLength="65.8" lengthAdjust="spacingAndGlyphs">数智人才</text>
<use href="#tch" x="272.1" y="556.3" width="26.3" height="19.2" style="color:#ec5a0b"/>
<ellipse cx="68.1" cy="293.5" rx="32.59" ry="31.82" fill="#dddddd"/>
<ellipse cx="161" cy="282.8" rx="33.09" ry="32.31" fill="#dddddd"/>
<ellipse cx="39.3" cy="395" rx="33.40" ry="32.61" fill="#dddddd"/>
<ellipse cx="104.3" cy="454" rx="27.22" ry="26.58" fill="#dddddd"/>
<ellipse cx="130.85" cy="369.95" rx="73" ry="72.5" fill="none" stroke="#e60012" stroke-opacity="0.1" stroke-width="1.3"/>
<ellipse cx="130.85" cy="369.95" rx="64" ry="64.5" fill="none" stroke="#e60012" stroke-opacity="0.28" stroke-width="1.6"/>
<ellipse cx="130.85" cy="369.95" rx="56.8" ry="56.55" fill="none" stroke="#e60012" stroke-opacity="0.65" stroke-width="2.0"/>
<ellipse cx="130.85" cy="369.95" rx="50.85" ry="49.75" fill="#e60012"/>
<text class="st sm" x="68.1" y="292.1" font-size="10">注册</text>
<text class="st sm" x="68.1" y="306.1" font-size="10">合作伙伴</text>
<text class="st sm" x="161" y="281.3" font-size="10">扩展营销</text>
<text class="st sm" x="161" y="295.3" font-size="10">合作伙伴</text>
<text class="st sm" x="39.3" y="394.0" font-size="10">解决方案</text>
<text class="st sm" x="39.3" y="408.0" font-size="10">伙伴</text>
<text class="st sm" x="104.3" y="456.5" font-size="10">……</text>
<text class="lb" x="130.9" y="383.3" font-size="13.8" textLength="56.8" lengthAdjust="spacingAndGlyphs">增值经销</text>
<text class="lb" x="130.9" y="402.6" font-size="13.8" textLength="28.4" lengthAdjust="spacingAndGlyphs">伙伴</text>
<use href="#grp" x="118.6" y="336.6" width="25.8" height="26.8" style="color:#e60012"/>
</svg></body></html>
